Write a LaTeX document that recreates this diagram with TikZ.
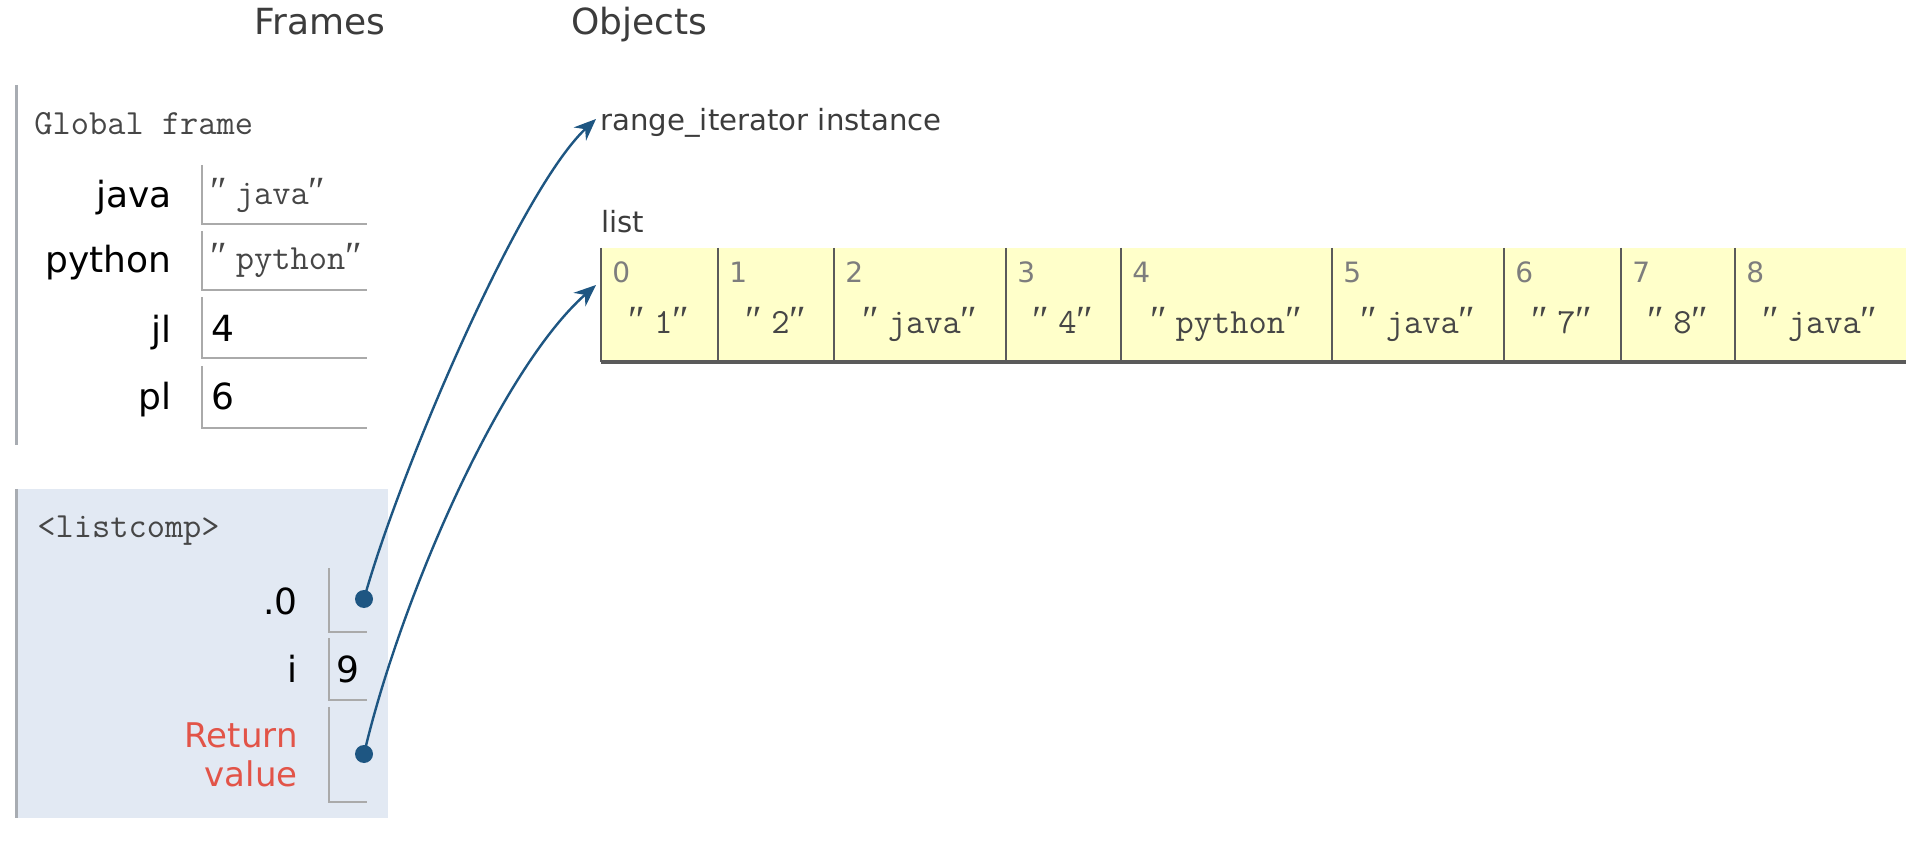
\documentclass[tikz,border=0pt]{standalone}
\usepackage{fontspec}
\usetikzlibrary{arrows.meta,positioning}
\newfontfamily\labfont{DejaVu Sans}
\newfontfamily\qfont{Liberation Serif}
\definecolor{barcol}{RGB}{168,172,178}
\definecolor{cellcol}{RGB}{170,170,170}
\definecolor{compbg}{RGB}{226,233,243}
\definecolor{listbg}{RGB}{255,255,202}
\definecolor{divcol}{RGB}{90,90,90}
\definecolor{ptrcol}{RGB}{30,86,130}
\definecolor{retcol}{RGB}{226,84,72}
\definecolor{headcol}{RGB}{60,60,60}
\definecolor{idxcol}{RGB}{125,125,125}
\definecolor{strcol}{RGB}{70,70,70}
\newcommand{\pystr}[1]{{\qfont\fontsize{20}{20}\selectfont ″}\kern0.25em#1{\qfont\fontsize{20}{20}\selectfont ″}}

\begin{document}
\begin{tikzpicture}[x=0.5pt, y=-0.5pt,
    head/.style={font=\labfont\fontsize{18}{20}\selectfont, text=headcol, inner sep=0pt, anchor=base},
    ftitle/.style={font=\ttfamily\fontsize{17.7}{20}\selectfont, text=strcol, inner sep=0pt, anchor=base west},
    varname/.style={font=\labfont\fontsize{18}{20}\selectfont, inner sep=0pt, anchor=base east},
    numval/.style={font=\labfont\fontsize{18}{20}\selectfont, inner sep=0pt, anchor=base west},
    strval/.style={font=\ttfamily\fontsize{17.7}{20}\selectfont, text=strcol, inner sep=0pt, anchor=base west},
    objlab/.style={font=\labfont\fontsize{14.6}{17}\selectfont, text=headcol, inner sep=0pt, anchor=base west},
    idx/.style={font=\labfont\fontsize{14}{16}\selectfont, text=idxcol, inner sep=0pt, anchor=base west},
    elem/.style={font=\ttfamily\fontsize{17.7}{20}\selectfont, text=strcol, inner sep=0pt, anchor=base},
    cell/.style={draw=cellcol, line width=1pt},
    divider/.style={draw=divcol, line width=1pt},
    dot/.style={circle, fill=ptrcol, inner sep=0pt, minimum size=9pt},
    ptr/.style={draw=ptrcol, line width=1.2pt, -{Stealth[length=11pt,width=9pt]}}]
  \useasboundingbox (0,0) rectangle (1928,844);

  % headers
  \node[head] (frames) at (320,35) {Frames};
  \node[head] (objects) at (639,35) {Objects};

  % global frame
  \draw[barcol, line width=1.5pt] (16,85) -- (16,445);
  \node[ftitle] (gtitle) at (34,135) {Global frame};
  \node[varname] (vjava) at (172,208) {java};
  \node[varname] (vpython) at (172,273) {python};
  \node[varname] (vjl) at (172,343) {jl};
  \node[varname] (vpl) at (172,410) {pl};
  \draw[cell] (202,165) |- (367,224);
  \draw[cell] (202,231) |- (367,290);
  \draw[cell] (202,297) |- (367,358);
  \draw[cell] (202,366) |- (367,428);
  \node[strval] (sjava) at (210,205) {\pystr{java}};
  \node[strval] (spython) at (210,270) {\pystr{python}};
  \node[numval] (njl) at (211,342) {4};
  \node[numval] (npl) at (211,410) {6};

  % listcomp frame
  \fill[compbg] (16,489) rectangle (388,818);
  \draw[barcol, line width=1.5pt] (16,489) -- (16,818);
  \node[ftitle] (ltitle) at (37,538) {<listcomp>};
  \node[varname] (vzero) at (298,614) {.0};
  \node[varname] (vi) at (298,682) {i};
  \node[varname, text=retcol, font=\labfont\fontsize{17}{20}\selectfont] (vret) at (298,747) {Return};
  \node[varname, text=retcol, font=\labfont\fontsize{17}{20}\selectfont] (vval) at (298,786) {value};
  \draw[cell] (329,568) |- (367,632);
  \draw[cell] (329,638) |- (367,700);
  \draw[cell] (329,707) |- (367,802);
  \node[numval] (ni) at (336,682) {9};
  \node[dot] (dzero) at (364,599) {};
  \node[dot] (dret) at (364,754) {};

  % objects
  \node[objlab] (rng) at (600,131) {range\_iterator instance};
  \node[objlab] (lst) at (601,233) {list};
  \fill[listbg] (601,248) rectangle (1906,362);
  \draw[divider] (601,248) -- (601,362);
  \draw[divider] (718,248) -- (718,362);
  \draw[divider] (834,248) -- (834,362);
  \draw[divider] (1006,248) -- (1006,362);
  \draw[divider] (1121,248) -- (1121,362);
  \draw[divider] (1332,248) -- (1332,362);
  \draw[divider] (1504,248) -- (1504,362);
  \draw[divider] (1621,248) -- (1621,362);
  \draw[divider] (1735,248) -- (1735,362);
  \draw[divider, line width=1.6pt] (601,362) -- (1906,362);
  \node[idx] (i0) at (612,283) {0};
  \node[idx] (i1) at (729,283) {1};
  \node[idx] (i2) at (845,283) {2};
  \node[idx] (i3) at (1017,283) {3};
  \node[idx] (i4) at (1132,283) {4};
  \node[idx] (i5) at (1343,283) {5};
  \node[idx] (i6) at (1515,283) {6};
  \node[idx] (i7) at (1632,283) {7};
  \node[idx] (i8) at (1746,283) {8};
  \node[elem] (e0) at (659,334) {\pystr{1}};
  \node[elem] (e1) at (776,334) {\pystr{2}};
  \node[elem] (e2) at (920,334) {\pystr{java}};
  \node[elem] (e3) at (1063,334) {\pystr{4}};
  \node[elem] (e4) at (1226,334) {\pystr{python}};
  \node[elem] (e5) at (1418,334) {\pystr{java}};
  \node[elem] (e6) at (1562,334) {\pystr{7}};
  \node[elem] (e7) at (1678,334) {\pystr{8}};
  \node[elem] (e8) at (1820,334) {\pystr{java}};

  % pointers
  \coordinate (rngin) at (596,119);
  \coordinate (lstin) at (596,285);
  \draw[ptr] (dzero.center) .. controls (400,470) and (520,190) .. (rngin);
  \draw[ptr] (dret.center) .. controls (400,600) and (500,370) .. (lstin);
\end{tikzpicture}
\end{document}
